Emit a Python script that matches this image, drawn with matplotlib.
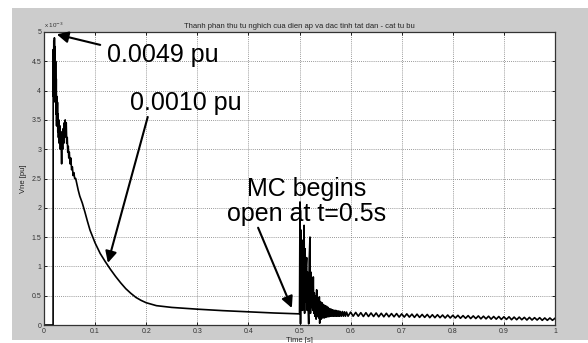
import numpy as np
import matplotlib.pyplot as plt
from matplotlib.patches import Rectangle
from matplotlib.ticker import FuncFormatter

plt.rcParams['font.family'] = ['Liberation Sans', 'DejaVu Sans']

# Vne in units of 1e-3 pu
# fault inception + decay up to the capacitor switching at t=0.5s
t_decay = [0.000, 0.0178, 0.0180, 0.0186, 0.0192, 0.0198, 0.0204, 0.0210, 0.0216,
           0.0222, 0.0228, 0.0234, 0.0240, 0.0246, 0.0252, 0.0258, 0.0264, 0.0270,
           0.0276, 0.0282, 0.0290, 0.0300, 0.0310, 0.0320, 0.0330, 0.0345, 0.0355,
           0.0365, 0.0375, 0.0385, 0.0395, 0.0405, 0.0415, 0.0425, 0.0435, 0.0445,
           0.0455, 0.0465, 0.0475, 0.0485, 0.0495, 0.0510, 0.0525, 0.0540, 0.0555,
           0.0570, 0.0585, 0.0600, 0.0620, 0.0640, 0.0670, 0.0700, 0.0750, 0.0800,
           0.0850, 0.0900, 0.1000, 0.1100, 0.1200, 0.1300, 0.1400, 0.1500, 0.1600,
           0.1700, 0.1800, 0.1900, 0.2000, 0.2200, 0.2500, 0.3000, 0.3500, 0.4000,
           0.4500, 0.5000]
v_decay = [0.00, 0.00, 4.70, 3.90, 4.85, 4.00, 4.90, 4.10, 4.75,
           3.80, 4.50, 3.60, 4.20, 3.40, 3.90, 3.40, 3.80, 3.30,
           3.60, 3.20, 3.50, 3.10, 3.40, 3.00, 3.30, 2.75, 3.20,
           3.00, 3.35, 3.10, 3.45, 3.20, 3.50, 3.25, 3.45, 3.10,
           3.20, 2.95, 3.05, 2.85, 2.95, 2.75, 2.85, 2.65, 2.70,
           2.55, 2.60, 2.50, 2.50, 2.42, 2.30, 2.20, 2.08, 1.93,
           1.77, 1.62, 1.40, 1.22, 1.08, 0.95, 0.83, 0.72, 0.62,
           0.54, 0.47, 0.42, 0.38, 0.33, 0.30, 0.27, 0.245, 0.225,
           0.205, 0.19]

# transient after MC opens
t_burst = [0.5010, 0.5020, 0.5030, 0.5040, 0.5050, 0.5060, 0.5070, 0.5080, 0.5090,
           0.5100, 0.5110, 0.5120, 0.5130, 0.5140, 0.5150, 0.5160, 0.5170, 0.5180,
           0.5190, 0.5205, 0.5215, 0.5225, 0.5235, 0.5250, 0.5260, 0.5270, 0.5280,
           0.5290, 0.5300, 0.5315, 0.5325, 0.5336, 0.5345, 0.5360, 0.5375, 0.5388,
           0.5395, 0.5410, 0.5425, 0.5440, 0.5455, 0.5470, 0.5485, 0.5500, 0.5515,
           0.5530, 0.5545, 0.5560, 0.5575, 0.5590, 0.5605, 0.5620, 0.5635, 0.5650,
           0.5665, 0.5680, 0.5695, 0.5710, 0.5725, 0.5740, 0.5755, 0.5770, 0.5785,
           0.5800, 0.5820, 0.5840, 0.5860, 0.5880, 0.5900, 0.5920, 0.5950]
v_burst = [2.10, 0.02, 1.62, 0.30, 1.25, 0.25, 1.45, 0.35, 1.70,
           0.20, 1.30, 0.40, 1.00, 1.15, 0.25, 0.90, 0.30, 0.02,
           1.10, 1.50, 0.20, 0.90, 0.30, 0.75, 0.25, 0.82, 0.20,
           0.55, 0.15, 0.50, 0.10, 0.60, 0.15, 0.45, 0.12, 0.48,
           0.03, 0.40, 0.10, 0.38, 0.12, 0.35, 0.12, 0.33, 0.13,
           0.32, 0.14, 0.30, 0.14, 0.28, 0.15, 0.27, 0.15, 0.26,
           0.15, 0.25, 0.15, 0.25, 0.15, 0.24, 0.15, 0.24, 0.15,
           0.23, 0.15, 0.23, 0.15, 0.225, 0.15, 0.22, 0.15]

# residual ripple, sampled every half period (0.005 s) from 0.6 s to 1.0 s
t_tail = np.round(np.linspace(0.6, 1.0, 81), 3)
v_tail = [0.22, 0.15, 0.215, 0.15, 0.21, 0.145, 0.21, 0.145, 0.205, 0.145,
          0.205, 0.14, 0.20, 0.14, 0.20, 0.14, 0.195, 0.14, 0.195, 0.135,
          0.19, 0.135, 0.19, 0.135, 0.185, 0.13, 0.185, 0.13, 0.18, 0.13,
          0.18, 0.125, 0.175, 0.125, 0.175, 0.125, 0.17, 0.12, 0.17, 0.12,
          0.165, 0.12, 0.165, 0.115, 0.16, 0.115, 0.16, 0.11, 0.155, 0.11,
          0.155, 0.105, 0.15, 0.105, 0.15, 0.10, 0.145, 0.10, 0.145, 0.095,
          0.14, 0.095, 0.14, 0.09, 0.135, 0.09, 0.135, 0.09, 0.13, 0.085,
          0.13, 0.085, 0.125, 0.085, 0.125, 0.08, 0.12, 0.08, 0.12, 0.08,
          0.115]

x_ticks = [0, 0.1, 0.2, 0.3, 0.4, 0.5, 0.6, 0.7, 0.8, 0.9, 1]
y_ticks = [0, 0.5, 1, 1.5, 2, 2.5, 3, 3.5, 4, 4.5, 5]

t = np.concatenate([t_decay, t_burst, t_tail])
vne = np.concatenate([v_decay, v_burst, v_tail])

fig = plt.figure(figsize=(5.88, 3.43), dpi=100)
fig.patch.set_facecolor('white')
fig.patches.append(Rectangle((12/588, 3/343), 1 - 12/588, 332/343,
                             transform=fig.transFigure, facecolor='#cccccc',
                             edgecolor='none', zorder=-10))

ax = fig.add_axes([44/588, 18/343, 511/588, 293/343])
ax.set_facecolor('white')
ax.plot(t, vne, color='black', lw=1.2)

ax.set_xlim(0, 1)
ax.set_ylim(0, 5)
ax.set_xticks(x_ticks)
ax.set_yticks(y_ticks)
fmt = FuncFormatter(lambda v, p: '%g' % v)
ax.xaxis.set_major_formatter(fmt)
ax.yaxis.set_major_formatter(fmt)
ax.tick_params(direction='in', length=2.5, width=0.6, labelsize=5,
               labelcolor='#333333', top=True, right=True, pad=2)
ax.grid(True, color='#777777', linestyle=(0, (1, 1.5)), linewidth=0.6)
for s in ax.spines.values():
    s.set_color('#333333')
    s.set_linewidth(0.9)

ax.set_title('Thanh phan thu tu nghich cua dien ap va dac tinh tat dan - cat tu bu',
             fontsize=5.5, pad=3, color='#222222')
ax.set_xlabel('Time [s]', fontsize=5.5, labelpad=1.5, color='#222222')
ax.set_ylabel('Vne [pu]', fontsize=5.5, labelpad=3, color='#222222')
ax.text(0.0, 1.008, 'x 10$^{-3}$', transform=ax.transAxes, fontsize=4.5,
        ha='left', va='bottom', color='#333333')

arrow = dict(arrowstyle='-|>', color='black', lw=1.5, mutation_scale=17,
             shrinkA=0, shrinkB=0)
ax.annotate('', xy=(0.025, 4.96), xytext=(0.110, 4.78), arrowprops=arrow)
ax.text(0.123, 4.61, '0.0049 pu', fontsize=18, ha='left', va='center')

ax.annotate('', xy=(0.125, 1.06), xytext=(0.203, 3.55), arrowprops=arrow)
ax.text(0.168, 3.79, '0.0010 pu', fontsize=18, ha='left', va='center')

ax.annotate('', xy=(0.485, 0.29), xytext=(0.419, 1.66), arrowprops=arrow)
ax.text(0.513, 2.10, 'MC begins\nopen at t=0.5s', fontsize=18, ha='center',
        va='center', multialignment='center', linespacing=1.05)

fig.savefig('out.png', dpi=100)
